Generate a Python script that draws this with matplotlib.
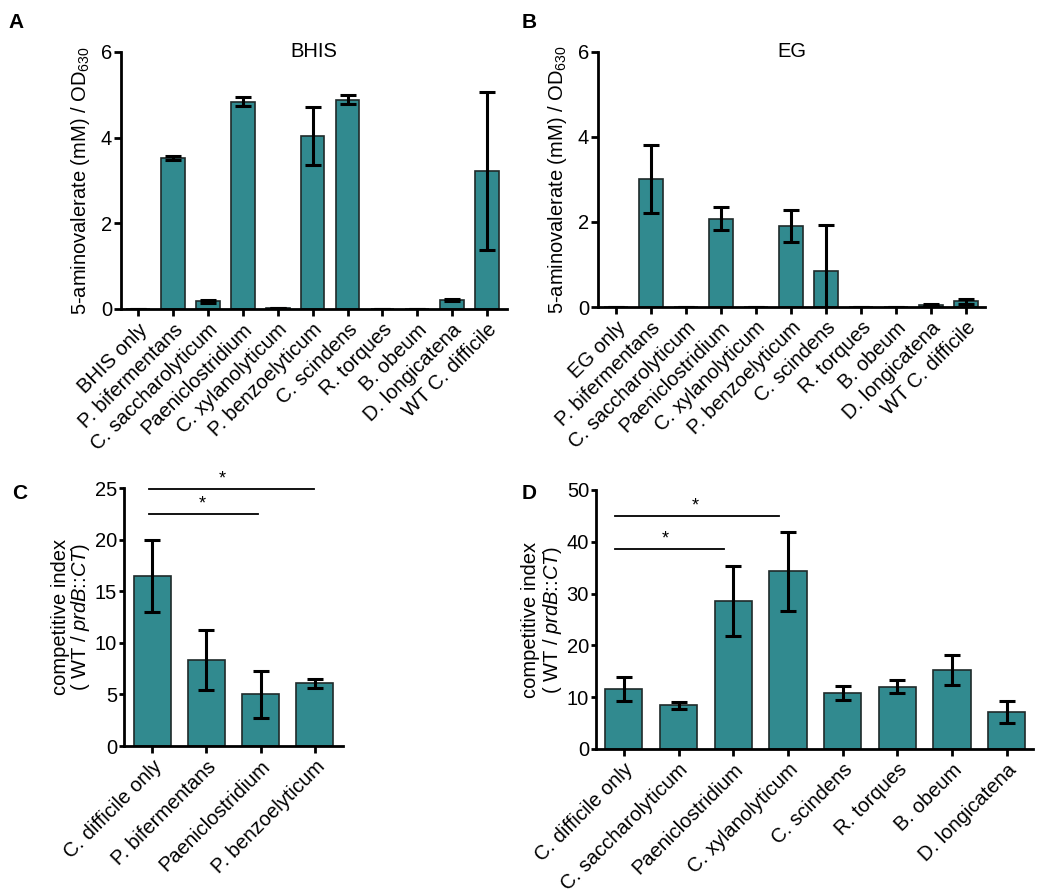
import matplotlib
matplotlib.use("Agg")
import matplotlib.pyplot as plt
import numpy as np

plt.rcParams['font.family'] = ['Liberation Sans', 'DejaVu Sans']
plt.rcParams['mathtext.fontset'] = 'custom'
plt.rcParams['mathtext.rm'] = 'Liberation Sans'
plt.rcParams['mathtext.it'] = 'Liberation Sans:italic'
plt.rcParams['mathtext.bf'] = 'Liberation Sans:bold'

# ---- data ----
cats_A = ["BHIS only", "P. bifermentans", "C. saccharolyticum", "Paeniclostridium",
          "C. xylanolyticum", "P. benzoelyticum", "C. scindens", "R. torques",
          "B. obeum", "D. longicatena", "WT C. difficile"]
vals_A = [0.0, 3.53, 0.18, 4.84, 0.02, 4.04, 4.89, 0.0, 0.0, 0.21, 3.22]
err_A = [0.0, 0.05, 0.04, 0.10, 0.0, 0.67, 0.10, 0.0, 0.0, 0.03, 1.85]

cats_B = ["EG only", "P. bifermentans", "C. saccharolyticum", "Paeniclostridium",
          "C. xylanolyticum", "P. benzoelyticum", "C. scindens", "R. torques",
          "B. obeum", "D. longicatena", "WT C. difficile"]
vals_B = [0.0, 3.01, 0.01, 2.08, 0.01, 1.91, 0.84, 0.01, 0.01, 0.04, 0.14]
err_B = [0.0, 0.80, 0.0, 0.27, 0.0, 0.38, 1.10, 0.0, 0.0, 0.02, 0.06]

cats_C = ["C. difficile only", "P. bifermentans", "Paeniclostridium", "P. benzoelyticum"]
vals_C = [16.5, 8.34, 5.0, 6.08]
err_C = [3.5, 2.9, 2.3, 0.42]
sig_C = [(-0.05, 2.98, 24.9, 1.3), (-0.05, 1.95, 22.5, 0.92)]  # x0, x1, y, star x

cats_D = ["C. difficile only", "C. saccharolyticum", "Paeniclostridium", "C. xylanolyticum",
          "C. scindens", "R. torques", "B. obeum", "D. longicatena"]
vals_D = [11.6, 8.4, 28.5, 34.3, 10.8, 12.0, 15.3, 7.2]
err_D = [2.25, 0.63, 6.75, 7.6, 1.3, 1.25, 2.9, 2.1]
sig_D = [(-0.17, 2.83, 45.0, 1.3), (-0.17, 1.83, 38.6, 0.75)]

teal = '#318a8f'
edge = '#1f2a2a'

fig = plt.figure(figsize=(10.5, 8.93), dpi=100)

def style(ax, ylim, yticks, xlim, cats, fs=14.5, ylen=5):
    ax.set_ylim(*ylim)
    ax.set_xlim(*xlim)
    ax.set_yticks(yticks)
    ax.set_xticks(np.arange(len(cats)))
    ax.set_xticklabels(cats, rotation=45, ha='right', rotation_mode='anchor', fontsize=fs)
    for s in ['top', 'right']:
        ax.spines[s].set_visible(False)
    for s in ['left', 'bottom']:
        ax.spines[s].set_linewidth(2.0)
        ax.spines[s].set_color('black')
    ax.tick_params(axis='y', width=2.0, length=ylen, labelsize=14.5, pad=1.5)
    ax.tick_params(axis='x', width=2.0, length=5, labelsize=fs, pad=3)

def draw_bars(ax, vals, errs):
    x = np.arange(len(vals))
    ax.bar(x, vals, width=0.68, color=teal, edgecolor=edge, linewidth=1.2, zorder=2)
    ax.errorbar(x, vals, yerr=errs, fmt='none', ecolor='black', elinewidth=2.2,
                capsize=5.5, capthick=2.2, zorder=3)

# Panel A
axA = fig.add_axes([0.1152, 0.654, 0.3677, 0.2878])
draw_bars(axA, vals_A, err_A)
style(axA, (0, 6), [0, 2, 4, 6], (-0.49, 10.57), cats_A)
axA.set_ylabel(r'5-aminovalerate (mM) / OD$_{630}$', fontsize=14.5, labelpad=6)
axA.text(0.5, 1.0, 'BHIS', transform=axA.transAxes, ha='center', va='center', fontsize=14.5)

# Panel B
axB = fig.add_axes([0.5695, 0.6562, 0.3685, 0.2856])
draw_bars(axB, vals_B, err_B)
style(axB, (0, 6), [0, 2, 4, 6], (-0.51, 10.54), cats_B)
axB.set_ylabel(r'5-aminovalerate (mM) / OD$_{630}$', fontsize=14.5, labelpad=6)
axB.text(0.5, 1.0, 'EG', transform=axB.transAxes, ha='center', va='center', fontsize=14.5)

# Panel C
axC = fig.add_axes([0.1181, 0.1646, 0.2086, 0.2889])
draw_bars(axC, vals_C, err_C)
style(axC, (0, 25), [0, 5, 10, 15, 20, 25], (-0.52, 3.52), cats_C, ylen=3.5)
axC.set_ylabel('competitive index\n' + r'( WT / $\it{prdB}$::$\it{CT}$)', fontsize=14.5,
               labelpad=2, linespacing=0.95)
for x0, x1, y, xs in sig_C:
    axC.plot([x0, x1], [y, y], color='black', lw=1.3, clip_on=False)
    axC.text(xs, y + 0.15, '*', ha='center', va='bottom', fontsize=13, clip_on=False)

# Panel D
axD = fig.add_axes([0.5676, 0.1613, 0.4162, 0.29])
draw_bars(axD, vals_D, err_D)
style(axD, (0, 50), [0, 10, 20, 30, 40, 50], (-0.51, 7.48), cats_D, ylen=3.5)
axD.set_ylabel('competitive index\n' + r'( WT / $\it{prdB}$::$\it{CT}$)', fontsize=14.5,
               labelpad=2, linespacing=1.05)
for x0, x1, y, xs in sig_D:
    axD.plot([x0, x1], [y, y], color='black', lw=1.3, clip_on=False)
    axD.text(xs, y + 0.3, '*', ha='center', va='bottom', fontsize=13, clip_on=False)

# Panel letters
for lbl, (x, y) in {'A': (0.008, 0.975), 'B': (0.497, 0.975),
                    'C': (0.012, 0.447), 'D': (0.497, 0.447)}.items():
    fig.text(x, y, lbl, fontsize=15, fontweight='bold', ha='left', va='center')

fig.savefig('out.png', dpi=100)
